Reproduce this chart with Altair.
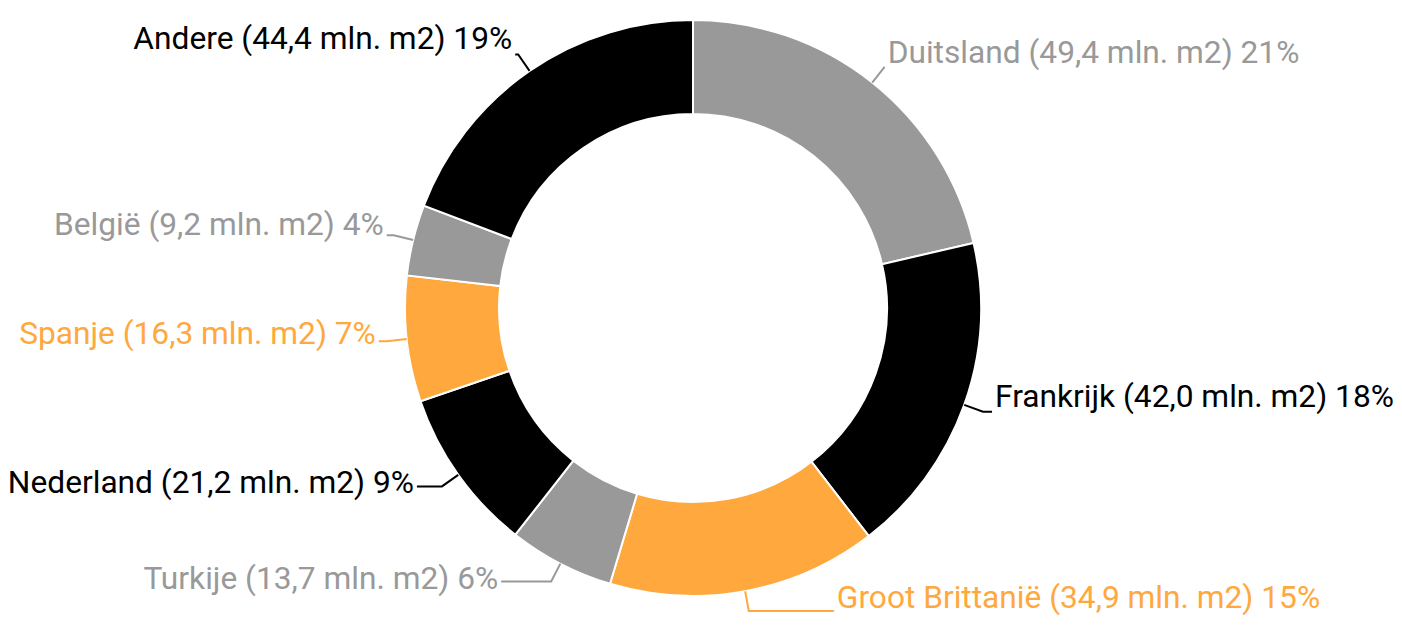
import math
import altair as alt
import pandas as pd

# ---- data ----
countries = ["Duitsland", "Frankrijk", "Groot Brittanië", "Turkije",
             "Nederland", "Spanje", "België", "Andere"]
area_mln_m2 = [49.4, 42.0, 34.9, 13.7, 21.2, 16.3, 9.2, 44.4]
share_pct = [21, 18, 15, 6, 9, 7, 4, 19]

# ---- styling / layout ----
palette = ["#999999", "#000000", "#FFA83D"]
W, H = 1386, 611          # view size (page offset 8px)
CX, CY = 685, 300         # donut centre inside the view
R_OUT, R_IN = 288, 194
LEADER_LEN = 20           # radial part of the label line
LEADER_RUN = [0, 9, 85, 50, 25, 8, 7, 3]     # horizontal part per label
LABEL_DY = [-4, -5, -3, 8, 7, 3, 0, -5]      # vertical label nudge
FONT = "Roboto"
FONT_SIZE = 31.7

colors = [palette[i % len(palette)] for i in range(len(countries))]
labels = [f"{c} ({format(v, '.1f').replace('.', ',')} mln. m2) {p}%"
          for c, v, p in zip(countries, area_mln_m2, share_pct)]

df = pd.DataFrame({"idx": range(len(countries)), "country": countries,
                   "value": area_mln_m2, "col": colors, "label": labels})

# geometry of leader lines / label anchors derived from the values
total = sum(area_mln_m2)
line_rows, text_rows = [], []
cum = 0.0
for i, v in enumerate(area_mln_m2):
    mid = (cum + v / 2) / total * 2 * math.pi
    cum += v
    s, c = math.sin(mid), -math.cos(mid)
    side = 1 if s >= 0 else -1
    p0 = (CX + R_OUT * s, CY + R_OUT * c)
    p1 = (CX + (R_OUT + LEADER_LEN) * s, CY + (R_OUT + LEADER_LEN) * c)
    p2 = (p1[0] + side * LEADER_RUN[i], p1[1])
    for k, p in enumerate([p0, p1, p2]):
        line_rows.append({"country": countries[i], "k": k, "px": p[0], "py": p[1], "col": colors[i]})
    text_rows.append({"country": countries[i], "label": labels[i], "col": colors[i],
                      "tx": p2[0] + side * 3, "ty": p2[1] + LABEL_DY[i],
                      "side": "L" if side > 0 else "R"})

lines_df = pd.DataFrame(line_rows)
text_df = pd.DataFrame(text_rows)

xs = alt.Scale(domain=[0, W], range=[0, W])
ys = alt.Scale(domain=[0, H], range=[0, H])

arcs = alt.Chart(df).mark_arc(outerRadius=R_OUT, innerRadius=R_IN,
                              stroke="white", strokeWidth=2).encode(
    theta=alt.Theta("value:Q", stack=True),
    order=alt.Order("idx:Q", sort="ascending"),
    color=alt.Color("col:N", scale=None),
    x=alt.value(CX), y=alt.value(CY),
)

leaders = alt.Chart(lines_df).mark_line(strokeWidth=2).encode(
    x=alt.X("px:Q", scale=xs, axis=None),
    y=alt.Y("py:Q", scale=ys, axis=None),
    detail="country:N",
    order="k:Q",
    color=alt.Color("col:N", scale=None),
)

def text_layer(side, align):
    return alt.Chart(text_df).transform_filter(
        alt.datum.side == side
    ).mark_text(align=align, baseline="alphabetic", font=FONT, fontSize=FONT_SIZE).encode(
        x=alt.X("tx:Q", scale=xs, axis=None),
        y=alt.Y("ty:Q", scale=ys, axis=None),
        text="label:N",
        color=alt.Color("col:N", scale=None),
    )

chart = alt.layer(arcs, leaders, text_layer("L", "left"), text_layer("R", "right")).properties(
    width=W, height=H, padding=0, autosize=alt.AutoSizeParams(type="none"),
    background="white",
).configure_view(stroke=None)

chart.save("out.html", embed_options={"renderer": "svg", "actions": False})
